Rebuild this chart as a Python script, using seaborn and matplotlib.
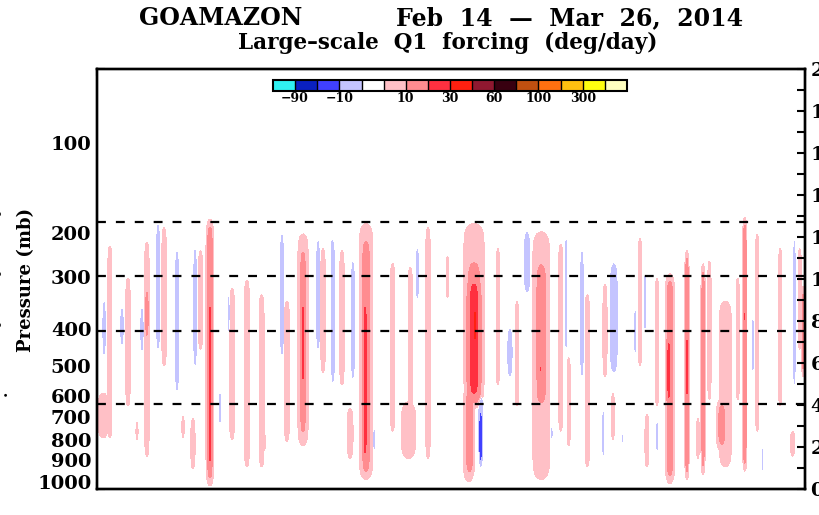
import numpy as np
import matplotlib
matplotlib.use("Agg")
import matplotlib.pyplot as plt
import seaborn as sns
import pandas as pd
from matplotlib.colors import ListedColormap, Normalize
from matplotlib.cm import ScalarMappable

# ---------------- data ----------------
# Time axis: days since Feb 14 2014 00Z, 40 days to Mar 26
date_labels = ["Feb 14", "Feb 21", "Feb 28", "Mar 7", "Mar 14", "Mar 21"]
label_days = [0, 7, 14, 21, 28, 35]

# Left-axis pressure labels and the heights (km) at which they sit
p_labels = ["100", "200", "300", "400", "500", "600", "700", "800", "900", "1000"]
p_label_z = [16.5, 12.2, 10.1, 7.6, 5.85, 4.45, 3.45, 2.35, 1.4, 0.35]

# Dashed reference levels (km)
dash_z = [12.71, 10.14, 7.52, 4.05]

# Colour bar: class boundaries (deg/day), labels and colours
cb_bounds = [-90, -30, -10, -5, 5, 10, 20, 30, 45, 60, 80, 100, 200, 300, 500]
cb_label_vals = [-90, -10, 10, 30, 60, 100, 300]
cb_colors = ["#30f0f0", "#0a20c0", "#4040ff", "#c4c4ff", "#ffffff",
             "#ffc0c6", "#ff8c90", "#ff3040", "#ff2010", "#901830",
             "#380010", "#c05010", "#ff7010", "#ffc010", "#ffff10", "#ffffc0"]

# Q1 forcing features (streaks):
# centre day, bottom / top height (km), value (deg/day), duration (days)
ev_day = [
    0.35, 0.73, 0.40, 1.41, 2.54, 1.75, 2.26, 2.82, 2.82, 3.45,
    3.79, 4.52, 4.86, 5.42, 5.54, 5.85, 6.38, 6.38, 6.95, 7.63,
    7.45, 8.47, 8.47, 9.30, 9.35, 10.45, 10.73, 11.64, 11.64, 11.64,
    12.49, 12.77, 13.28, 13.33, 13.84, 14.46, 14.30, 15.20, 15.20, 15.15,
    15.65, 16.70, 17.70, 17.60, 18.10, 18.70, 19.80, 21.30, 21.00, 21.30,
    21.05, 21.30, 21.35, 21.68, 21.68, 22.37, 23.33, 22.65, 23.73, 24.30,
    25.10, 25.10, 25.05, 25.70, 26.20, 26.50, 26.65, 27.40, 27.70, 28.70,
    29.20, 29.15, 28.60, 29.70, 29.94, 30.40, 30.68, 30.96, 31.07, 31.64,
    31.64, 32.37, 32.30, 33.33, 33.33, 33.95, 34.24, 34.60, 35.50, 35.30,
    36.20, 36.60, 36.60, 37.06, 37.30, 37.60, 38.60, 39.30, 39.40, 39.70,
    39.90]
ev_zbot = [
    2.3, 2.3, 6.3, 6.8, 6.5, 3.9, 2.2, 1.5, 7.1, 6.6,
    5.8, 4.6, 2.3, 0.9, 5.8, 6.6, 0.3, 1.0, 3.0, 2.3,
    7.4, 1.0, 2.7, 1.0, 1.7, 6.3, 2.2, 2.0, 2.5, 4.9,
    6.6, 5.5, 10.4, 5.0, 4.9, 5.2, 1.4, 0.4, 0.6, 1.4,
    1.7, 2.7, 2.7, 1.4, 9.0, 1.4, 9.0, 4.0, 0.3, 4.0,
    0.6, 4.2, 6.6, 1.0, 1.4, 7.7, 5.3, 4.9, 3.9, 9.3,
    0.4, 3.9, 4.9, 2.2, 2.7, 6.6, 2.0, 5.3, 1.0, 5.3,
    5.5, 2.3, 1.5, 2.0, 10.8, 6.3, 5.8, 7.4, 1.0, 1.7,
    3.9, 0.4, 3.9, 0.6, 3.9, 1.4, 0.8, 4.2, 1.0, 1.9,
    4.2, 1.0, 7.4, 5.5, 2.7, 0.8, 3.9, 1.5, 4.9, 6.6,
    5.5]
ev_ztop = [
    4.7, 11.7, 9.0, 8.7, 8.7, 10.1, 3.3, 11.8, 9.6, 12.7,
    12.5, 11.4, 3.6, 3.4, 11.5, 11.4, 12.7, 9.0, 4.7, 9.6,
    9.3, 10.0, 3.6, 9.3, 2.8, 12.2, 9.0, 12.2, 11.5, 9.0,
    11.9, 11.5, 12.0, 11.9, 11.4, 10.9, 3.9, 12.7, 12.0, 9.0,
    3.0, 10.8, 10.6, 4.2, 11.5, 12.5, 11.2, 12.7, 5.0, 11.0,
    5.0, 10.1, 9.0, 4.6, 3.6, 8.2, 7.7, 11.5, 9.0, 12.3,
    12.3, 10.9, 6.5, 3.1, 11.7, 12.0, 6.3, 11.4, 9.3, 9.8,
    10.8, 4.6, 3.8, 2.8, 11.5, 8.7, 12.0, 10.4, 3.6, 3.3,
    10.1, 10.1, 7.4, 11.2, 7.7, 3.4, 10.6, 10.9, 9.0, 4.2,
    10.1, 12.8, 9.0, 8.2, 12.2, 2.0, 11.5, 2.8, 11.9, 11.5,
    9.5]
ev_val = [
    8, 8, -9.5, -9.5, -9.5, 9, 8, 9, 14, -9.5,
    9, -9.5, 8, 9, -9.5, 9, 14, 25, -9.5, 9,
    -9.5, 9, 14, 9, 9, -9.5, 9, 9, 14, 25,
    -9.5, 9, -9.5, -9.5, 9, -9.5, 9, 9, 14, 25,
    -9.5, 9, 9, 9, -9.5, 9, 8, 9, 9, 14,
    14, 25, 33, -9.5, -24, -9.5, -9.5, 9, 9, -9.5,
    9, 14, 22, -9.5, 9, -9.5, 9, -9.5, 9, 9,
    -9.5, 9, -9.5, -9.5, -9.5, -9.5, 9, -9.5, 9, -9.5,
    9, 14, 23, 14, 22, 9, 13, 9, 9, 14,
    9, 14, 22, -9.5, 9, -9.5, 9, 9, -9.5, 9,
    14]
ev_dur = [
    0.45, 0.17, 0.15, 0.16, 0.15, 0.16, 0.12, 0.16, 0.12, 0.16,
    0.16, 0.16, 0.12, 0.16, 0.15, 0.15, 0.22, 0.10, 0.12, 0.18,
    0.12, 0.18, 0.16, 0.18, 0.30, 0.16, 0.18, 0.38, 0.22, 0.11,
    0.16, 0.16, 0.12, 0.16, 0.16, 0.16, 0.22, 0.50, 0.32, 0.12,
    0.12, 0.16, 0.16, 0.55, 0.16, 0.16, 0.12, 0.75, 0.40, 0.55,
    0.30, 0.42, 0.18, 0.20, 0.12, 0.10, 0.22, 0.12, 0.12, 0.26,
    0.62, 0.42, 0.10, 0.12, 0.15, 0.12, 0.12, 0.15, 0.16, 0.15,
    0.30, 0.12, 0.12, 0.10, 0.08, 0.10, 0.12, 0.10, 0.15, 0.12,
    0.12, 0.27, 0.13, 0.12, 0.07, 0.12, 0.12, 0.12, 0.45, 0.32,
    0.12, 0.12, 0.08, 0.12, 0.12, 0.10, 0.12, 0.20, 0.12, 0.12,
    0.10]

# ---------------- build the field from the features ----------------
t = np.linspace(0, 40, 2001)
z = np.linspace(0, 20, 401)
pos = np.zeros((z.size, t.size))
neg = np.zeros((z.size, t.size))
for d, zb, zt, v, w in zip(ev_day, ev_zbot, ev_ztop, ev_val, ev_dur):
    gt = np.exp(-((t - d) / w) ** 2)
    gz = 0.5 * (np.tanh((z - zb) / 0.5) - np.tanh((z - zt) / 0.5))
    blob = v * np.outer(gz, gt)
    if v > 0:
        pos = np.maximum(pos, blob)
    else:
        neg = np.minimum(neg, blob)
field = np.where(-neg > pos, neg, pos)

# ---------------- figure ----------------
sns.set_theme(style="white")
plt.rcParams["font.family"] = ["DejaVu Serif"]
plt.rcParams["font.weight"] = "bold"
plt.rcParams["axes.linewidth"] = 1.7
plt.rcParams["text.color"] = "black"
plt.rcParams["axes.labelcolor"] = "black"
plt.rcParams["xtick.color"] = "black"
plt.rcParams["ytick.color"] = "black"

W, H = 820, 515
fig = plt.figure(figsize=(W / 100, H / 100), dpi=100)
fig.patch.set_facecolor("white")
ax = fig.add_axes([97 / W, 26 / H, 708 / W, 420 / H])
ax2 = ax.twinx()

levels = [-10000] + cb_bounds + [10000]
ax.contourf(t, z, field, levels=levels, colors=cb_colors)

# dashed reference levels through seaborn
dash_df = pd.DataFrame({
    "day": [0, 40] * len(dash_z),
    "z": [v for v in dash_z for _ in range(2)],
    "lvl": [i for i in range(len(dash_z)) for _ in range(2)],
})
sns.lineplot(data=dash_df, x="day", y="z", units="lvl", estimator=None,
             color="black", lw=1.6, linestyle=(0, (4, 4.5)), ax=ax,
             legend=False, sort=False)

ax.set_xlim(0, 40)
ax.set_ylim(0, 20)
ax.set_xlabel("")
ax.set_ylabel("")
ax2.set_ylim(0, 20)

for a in (ax, ax2):
    for s in a.spines.values():
        s.set_color("black")
        s.set_linewidth(1.7)

# x ticks: every day on bottom and top, labels offset between ticks
ax.set_xticks(np.arange(0, 41, 1))
ax.tick_params(axis="x", which="major", direction="in", length=5, width=1.5,
               bottom=True, top=True, labelbottom=False, color="black")
ax.set_xticks(np.array(label_days) + 2.0, labels=date_labels, minor=True)
ax.tick_params(axis="x", which="minor", length=0, bottom=True, top=False,
               labelbottom=True, pad=5, labelsize=14, labelcolor="black")

# left: ticks every km, pressure labels
ax.set_yticks(np.arange(0, 21, 1))
ax.tick_params(axis="y", which="major", direction="in", length=6, width=1.5,
               left=True, right=False, labelleft=False, color="black")
ax.set_yticks(p_label_z, labels=p_labels, minor=True)
ax.tick_params(axis="y", which="minor", length=0, left=True, right=False,
               labelleft=True, pad=4, labelsize=14, labelcolor="black")

# right: height in km
ax2.set_yticks(np.arange(0, 21, 1),
               labels=[str(v) if v % 2 == 0 else "" for v in range(21)])
ax2.tick_params(axis="y", which="major", direction="in", length=6, width=1.5,
                right=True, left=False, labelright=True, pad=4,
                labelsize=14, color="black", labelcolor="black")
ax2.grid(False)
ax.grid(False)

# colour bar inside the plot
cax = fig.add_axes([273 / W, (H - 91) / H, 354 / W, 11 / H])
sm = ScalarMappable(norm=Normalize(0, 16), cmap=ListedColormap(cb_colors))
cb = fig.colorbar(sm, cax=cax, orientation="horizontal",
                  boundaries=np.arange(17), values=np.arange(16) + 0.5,
                  drawedges=True)
cb.set_ticks([cb_bounds.index(v) + 1 for v in cb_label_vals],
             labels=[str(v).replace("-", "\u2212") for v in cb_label_vals])
cax.tick_params(length=0, pad=1, labelsize=9, labelcolor="black")
cb.outline.set_linewidth(1.5)
cb.outline.set_edgecolor("black")
cb.dividers.set_linewidth(1.0)
cb.dividers.set_color("black")

# titles and axis label
fig.text(221 / W, 1 - 18 / H, "GOAMAZON",
         ha="center", va="center", fontsize=17, fontweight="bold",
         color="black")
fig.text(570 / W, 1 - 18 / H, "Feb  14  \u2014  Mar  26,  2014",
         ha="center", va="center", fontsize=17, fontweight="bold",
         color="black")
fig.text(448 / W, 1 - 43 / H, "Large\u2013scale  Q1  forcing  (deg/day)",
         ha="center", va="center", fontsize=15.5, fontweight="bold",
         color="black")
fig.text(26 / W, 1 - 280 / H, "Pressure (mb)", rotation=90,
         ha="center", va="center", fontsize=13, fontweight="bold",
         color="black")
for yy in (212, 272, 323):
    fig.text(3 / W, 1 - yy / H, "\u00b0", rotation=90, ha="center",
             va="center", fontsize=11, fontweight="bold", color="black")
fig.text(3 / W, 1 - 393 / H, ".", rotation=90, ha="center", va="center",
         fontsize=11, fontweight="bold", color="black")

fig.savefig("out.png", dpi=100)
